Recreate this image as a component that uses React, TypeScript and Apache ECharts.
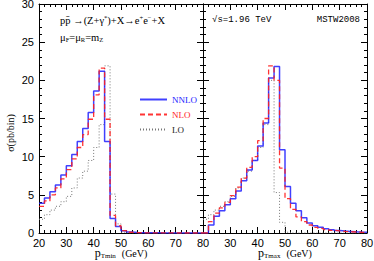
import React, { useEffect, useRef } from "react";
import * as echarts from "echarts";

// lower edges of the 2 GeV bins
const binLow = [20, 22, 24, 26, 28, 30, 32, 34, 36, 38, 40, 42, 44, 46, 48, 50, 52, 54, 56, 58, 60, 62, 64, 66, 68, 70, 72, 74, 76, 78];
const binWidth = 2;

// left panel: p_T,min
const nnloMin = [3.9, 4.6, 5.4, 6.3, 7.6, 8.8, 10.3, 12.0, 13.7, 15.8, 18.6, 21.2, 12.0, 1.9, 0.85, 0.3, 0.12, 0.06, 0.04, 0.03, 0.02, 0.02, 0.01, 0.01, 0.01, 0.01, 0, 0, 0, 0];
const nloMin = [3.5, 4.2, 5.0, 5.9, 7.1, 8.3, 9.7, 11.2, 12.9, 14.9, 18.1, 21.6, 14.9, 2.3, 0.95, 0.3, 0.1, 0.05, 0.03, 0.02, 0.02, 0.01, 0.01, 0.01, 0, 0, 0, 0, 0, 0];
const loMin = [1.8, 2.4, 3.0, 3.5, 4.1, 4.8, 5.9, 7.2, 8.1, 9.5, 11.2, 14.2, 21.9, 5.1, 1.2, 0.1, 0, 0, 0, 0, 0, 0, 0, 0, 0, 0, 0, 0, 0, 0];

// right panel: p_T,max
const nnloMax = [0, 1.05, 2.2, 2.9, 3.7, 4.5, 5.5, 6.85, 8.25, 9.5, 11.4, 14.4, 20.3, 21.8, 10.9, 6.1, 3.9, 2.9, 2.0, 1.3, 0.96, 0.75, 0.55, 0.42, 0.32, 0.25, 0.2, 0.15, 0.12, 0.1];
const nloMax = [0, 1.5, 2.6, 3.3, 4.0, 4.9, 6.0, 7.2, 8.6, 10.0, 12.1, 15.0, 21.9, 20.0, 8.5, 4.5, 3.1, 2.1, 1.5, 1.05, 0.75, 0.6, 0.45, 0.35, 0.27, 0.21, 0.17, 0.13, 0.1, 0.08];
const loMax = [1.8, 2.4, 3.0, 3.5, 4.1, 4.8, 5.9, 7.2, 8.1, 9.5, 11.2, 14.2, 20.0, 5.3, 1.4, 0.1, 0, 0, 0, 0, 0, 0, 0, 0, 0, 0, 0, 0, 0, 0];

const xTicks = { min: 20, max: 80, interval: 10 };
const yTicks = { min: 0, max: 30, interval: 5 };

function steps(vals: number[]) {
  const pts: number[][] = vals.map((v, i) => [binLow[i], v]);
  pts.push([binLow[binLow.length - 1] + binWidth, vals[vals.length - 1]]);
  return pts;
}

const BLUE = "rgba(30,30,255,0.85)";
const RED = "rgba(255,30,30,0.9)";
const GRAY = "#777";

export default function App() {
  const ref = useRef<HTMLDivElement>(null);
  useEffect(() => {
    if (!ref.current) return;
    const chart = echarts.init(ref.current, null, { renderer: "svg" });
    const tickStyle = { color: "#000", width: 1 };
    const xAxis = (gridIndex: number, position: string, showLabel: boolean, name: string, hideMin: boolean) => ({
      type: "value",
      gridIndex,
      position,
      min: xTicks.min,
      max: xTicks.max,
      interval: xTicks.interval,
      axisLine: { show: true, onZero: false, lineStyle: tickStyle },
      axisTick: { show: true, inside: true, length: 6, lineStyle: tickStyle },
      minorTick: { show: true, splitNumber: 5, length: 3, lineStyle: tickStyle },
      splitLine: { show: false },
      minorSplitLine: { show: false },
      axisLabel: {
        show: showLabel,
        color: "#000",
        fontFamily: "Liberation Sans",
        fontSize: 11,
        lineHeight: 11,
        margin: 4,
        showMinLabel: !hideMin,
      },
      name,
      nameLocation: "middle",
      nameGap: 14,
      nameMoveOverlap: false,
      nameTextStyle: {
        color: "#000",
        fontFamily: "Liberation Serif",
        rich: {
          p: { fontSize: 12, fontFamily: "Liberation Serif", color: "#000", lineHeight: 11 },
          s: { fontSize: 7, fontFamily: "Liberation Serif", color: "#000", lineHeight: 6, verticalAlign: "bottom" },
          n: { fontSize: 10, fontFamily: "Liberation Serif", color: "#000", lineHeight: 11 },
        },
      },
    });
    const yAxis = (gridIndex: number, position: string, showLabel: boolean) => ({
      type: "value",
      gridIndex,
      position,
      min: yTicks.min,
      max: yTicks.max,
      interval: yTicks.interval,
      axisLine: { show: true, onZero: false, lineStyle: tickStyle },
      axisTick: { show: true, inside: true, length: 6, lineStyle: tickStyle },
      minorTick: { show: true, splitNumber: 5, length: 3, lineStyle: tickStyle },
      splitLine: { show: false },
      minorSplitLine: { show: false },
      axisLabel: { show: showLabel, color: "#000", fontFamily: "Liberation Sans", fontSize: 11, lineHeight: 10, margin: 5 },
    });
    const ser = (name: string, vals: number[], idx: number, color: string, type: any, width: number, z: number) => ({
      name,
      type: "line",
      step: "end",
      symbol: "none",
      xAxisIndex: idx * 2,
      yAxisIndex: idx * 2,
      data: steps(vals),
      lineStyle: { color, type, width },
      itemStyle: { color },
      z,
    });
    chart.setOption({
      animation: false,
      backgroundColor: "#fff",
      grid: [
        { left: 39, top: 4, width: 164, height: 229, outerBoundsMode: "none", containLabel: false },
        { left: 203, top: 4, width: 164, height: 229, outerBoundsMode: "none", containLabel: false },
      ],
      xAxis: [
        xAxis(0, "bottom", true, "{p|p}{s|Tmin}  {n|(GeV)}", false),
        xAxis(0, "top", false, "", false),
        xAxis(1, "bottom", true, "{p|p}{s|Tmax}  {n|(GeV)}", true),
        xAxis(1, "top", false, "", false),
      ],
      yAxis: [yAxis(0, "left", true), yAxis(0, "right", false), yAxis(1, "left", false), yAxis(1, "right", false)],
      legend: {
        orient: "vertical",
        left: 134,
        top: 90,
        itemWidth: 27,
        itemHeight: 10,
        itemGap: 6,
        itemStyle: { opacity: 0 },
        textStyle: { fontFamily: "Liberation Serif", fontSize: 9 },
        data: [
          { name: "NNLO", textStyle: { color: "#2222ff" } },
          { name: "NLO", textStyle: { color: "#ff2222" } },
          { name: "LO", textStyle: { color: "#222" } },
        ],
      },
      series: [
        ser("LO", loMin, 0, GRAY, [1, 2], 1, 2),
        ser("NNLO", nnloMin, 0, BLUE, "solid", 1.5, 3),
        ser("NLO", nloMin, 0, RED, [5, 3], 1.3, 4),
        ser("LO", loMax, 1, GRAY, [1, 2], 1, 2),
        ser("NNLO", nnloMax, 1, BLUE, "solid", 1.5, 3),
        ser("NLO", nloMax, 1, RED, [5, 3], 1.3, 4),
      ],
      graphic: [
        {
          type: "text",
          x: 60,
          y: 14,
          style: {
            text: "{n|pp\u0304 \u2192(Z+\u03b3}{u|*}{n|)+X\u2192e}{u|+}{n|e}{u|\u2212}{n|+X}",
            rich: {
              n: { fontFamily: "Liberation Serif", fontSize: 10.5, fill: "#000", lineHeight: 12 },
              u: { fontFamily: "Liberation Serif", fontSize: 6.5, fill: "#000", lineHeight: 6, verticalAlign: "top" },
            },
          },
        },
        {
          type: "text",
          x: 60,
          y: 31,
          style: {
            text: "{n|\u03bc}{d|F}{n|=\u03bc}{d|R}{n|=m}{d|Z}",
            rich: {
              n: { fontFamily: "Liberation Serif", fontSize: 10.5, fill: "#000", lineHeight: 12 },
              d: { fontFamily: "Liberation Serif", fontSize: 6.5, fill: "#000", lineHeight: 6, verticalAlign: "bottom" },
            },
          },
        },
        {
          type: "text",
          x: 212,
          y: 15,
          style: { text: "\u221as=1.96 TeV", fontFamily: "Liberation Mono", fontSize: 9, fill: "#000" },
        },
        {
          type: "text",
          x: 360,
          y: 15,
          style: { text: "MSTW2008", fontFamily: "Liberation Mono", fontSize: 9, fill: "#000", align: "right" },
        },
        {
          type: "text",
          x: 10,
          y: 133,
          rotation: Math.PI / 2,
          style: {
            text: "\u03c3(pb/bin)",
            fontFamily: "Liberation Serif",
            fontSize: 10,
            fill: "#000",
            align: "center",
            verticalAlign: "middle",
          },
        },
      ],
    });
    return () => chart.dispose();
  }, []);
  return <div ref={ref} style={{ position: "fixed", left: 0, top: 0, width: 374, height: 261 }} />;
}
